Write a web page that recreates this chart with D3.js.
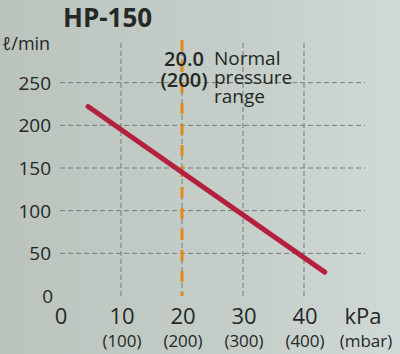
<!DOCTYPE html>
<html><head><meta charset="utf-8">
<script src="https://cdn.jsdelivr.net/npm/d3@7"></script>
<style>
html,body{margin:0;padding:0;background:#c3ccc5;}
svg{display:block;font-family:"Open Sans",sans-serif;}
</style></head>
<body>
<svg id="c" width="400" height="354"></svg>
<script>
const title = "HP-150";
const yUnit = "ℓ/min";
const yTicks = [0, 50, 100, 150, 200, 250];
const xTicks = [0, 10, 20, 30, 40];
const xTickSub = ["", "(100)", "(200)", "(300)", "(400)"];
const xUnit = "kPa";
const xUnitSub = "(mbar)";
const flowKPa = [4.6, 43.4];
const flowLmin = [222, 28];
const normalPressure = 20;
const noteLeft = ["20.0", "(200)"];
const noteRight = ["Normal", "pressure", "range"];

const svg = d3.select("#c");
const defs = svg.append("defs");
const g = defs.append("linearGradient").attr("id","bg").attr("x1","0").attr("x2","1").attr("y1","0").attr("y2","0");
g.append("stop").attr("offset","0").attr("stop-color","#bac3bc");
g.append("stop").attr("offset","0.6").attr("stop-color","#c5cec8");
g.append("stop").attr("offset","1").attr("stop-color","#d0d9d8");
svg.append("rect").attr("width",400).attr("height",354).attr("fill","url(#bg)");

const x = d3.scaleLinear().domain([0, 50]).range([60, 365]);
const y = d3.scaleLinear().domain([0, 300]).range([296, 40]);

// grid
const grid = svg.append("g").attr("stroke","#747d78").attr("stroke-width",1).attr("stroke-dasharray","5,3");
grid.selectAll("line.h").data(yTicks.filter(v => v > 0)).join("line")
  .attr("x1", x(0)).attr("x2", x(50)).attr("y1", d => y(d)).attr("y2", d => y(d));
grid.selectAll("line.v").data(xTicks.filter(v => v > 0)).join("line")
  .attr("y1", y(0)).attr("y2", y(300)).attr("x1", d => x(d)).attr("x2", d => x(d));

// normal pressure line
svg.append("line").attr("x1", x(normalPressure)).attr("x2", x(normalPressure))
  .attr("y1", y(300)).attr("y2", y(0))
  .attr("stroke","#e08a1c").attr("stroke-width",3).attr("stroke-dasharray","11,10");

// flow line
const pts = flowKPa.map((v,i) => [v, flowLmin[i]]);
svg.append("path").datum(pts)
  .attr("d", d3.line().x(d => x(d[0])).y(d => y(d[1])))
  .attr("stroke","#b5203f").attr("stroke-width",5).attr("stroke-linecap","round").attr("fill","none");

const ink = "#242826";
// title
svg.append("text").attr("x",63).attr("y",27).attr("font-size",26).attr("font-weight",700).attr("fill",ink).text(title);
svg.append("text").attr("x",2).attr("y",50).attr("font-size",18).attr("fill",ink).text(yUnit);

// y labels
svg.selectAll("text.yl").data(yTicks).join("text")
  .attr("x", d => d === 0 ? 53 : 51).attr("y", d => y(d) + 7)
  .attr("text-anchor","end").attr("font-size",19).attr("fill",ink).text(d => d);

// x labels
svg.selectAll("text.xl").data(xTicks).join("text")
  .attr("x", d => x(d) + 1).attr("y", 324)
  .attr("text-anchor","middle").attr("font-size",22).attr("fill",ink).text(d => d);
svg.selectAll("text.xs").data(xTicks).join("text")
  .attr("x", d => x(d) + 1).attr("y", 347)
  .attr("text-anchor","middle").attr("font-size",17).attr("fill",ink).text((d,i) => xTickSub[i]);
svg.append("text").attr("x",363).attr("y",324).attr("text-anchor","middle").attr("font-size",22).attr("fill",ink).text(xUnit);
svg.append("text").attr("x",366).attr("y",347).attr("text-anchor","middle").attr("font-size",17).attr("fill",ink).text(xUnitSub);

// annotation
const nl = [66, 87];
svg.selectAll("text.nl").data(noteLeft).join("text")
  .attr("x", 184).attr("y", (d,i) => nl[i]).attr("text-anchor","middle")
  .attr("font-size",20).attr("font-weight",600).attr("fill",ink).text(d => d);
const nr = [65, 84, 103];
svg.selectAll("text.nr").data(noteRight).join("text")
  .attr("x", 214).attr("y", (d,i) => nr[i])
  .attr("font-size",19).attr("fill",ink).text(d => d);
</script>
</body></html>
